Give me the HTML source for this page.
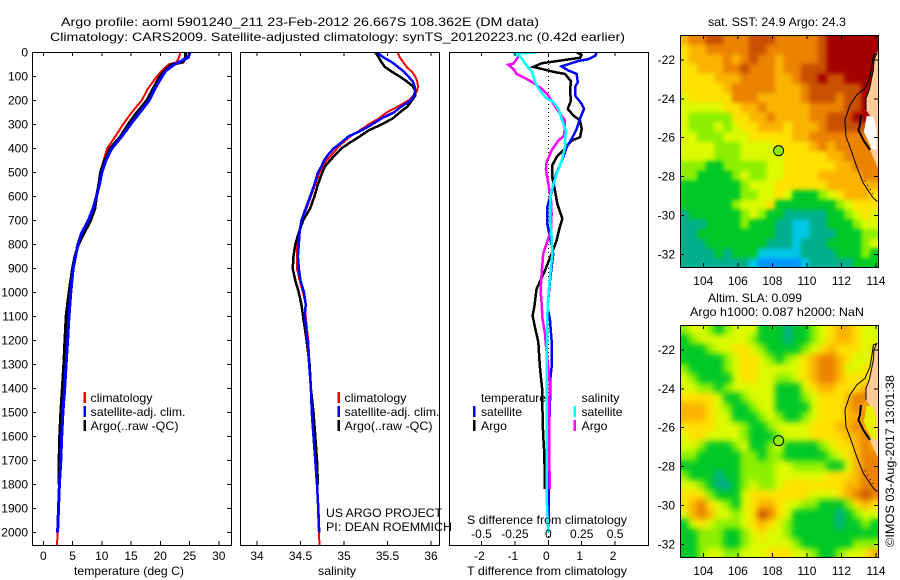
<!DOCTYPE html>
<html lang="en">
<head>
<meta charset="utf-8">
<title>Argo profile 5901240_211</title>
<style>
html,body{margin:0;padding:0;background:#fff;width:900px;height:580px;overflow:hidden}
svg{display:block}
text{font-family:"Liberation Sans",sans-serif;font-size:12px;fill:#000}
</style>
</head>
<body>
<svg id="chart" width="900" height="580" viewBox="0 0 900 580" xmlns="http://www.w3.org/2000/svg">
<defs>
<clipPath id="clip-map-top"><rect x="680" y="35" width="198" height="232"/></clipPath>
<clipPath id="clip-map-bottom"><rect x="680" y="325" width="198" height="232"/></clipPath>
<clipPath id="clip-temp"><rect x="32" y="52" width="199" height="493"/></clipPath>
<clipPath id="clip-sal"><rect x="240" y="52" width="199" height="493"/></clipPath>
<clipPath id="clip-diff"><rect x="449" y="52" width="199" height="493"/></clipPath>
<filter id="soft-sst-map" filterUnits="userSpaceOnUse" x="640" y="0" width="260" height="580" color-interpolation-filters="sRGB"><feGaussianBlur stdDeviation="2.2"/></filter>
<filter id="soft-sla-map" filterUnits="userSpaceOnUse" x="640" y="0" width="260" height="580" color-interpolation-filters="sRGB"><feGaussianBlur stdDeviation="3.2"/></filter>
</defs>
</svg>
<script>
// ---------- axis tick data ----------
var depthTicks = [0,100,200,300,400,500,600,700,800,900,1000,1100,1200,1300,1400,1500,1600,1700,1800,1900,2000];
var tempTicks = [0,5,10,15,20,25,30];
var salTicks = [34,34.5,35,35.5,36];
var tDiffTicks = [-2,-1,0,1,2];
var sDiffTicks = [-0.5,-0.25,0,0.25,0.5];
var sDiffTickLabels = ['-0.5','-0.25','0','0.25','0.5'];
var lonTicks = [104,106,108,110,112,114];
var latTicks = [22,24,26,28,30,32];

// ---------- temperature panel ----------
var tempDepths = [0,20,40,50,75,100,150,200,250,300,350,400,450,500,550,600,650,700,750,800,850,900,1000,1100,1200,1300,1400,1500,1600,1700,1800,1900,2000,2055];
var tempClim = [23.4,23.2,22.8,21.4,20.3,19.4,17.9,16.8,15.1,13.6,12.3,10.9,10.3,9.7,9.4,9.1,8.7,7.9,6.6,5.9,5.4,5.1,4.7,4.3,4,3.8,3.55,3.25,3.1,2.9,2.75,2.5,2.45,2.35];
var tempArgo = [24.3,24.3,23.9,21.9,20.8,19.9,18.8,17.7,16,14.5,13.2,11.4,10.5,9.8,9.5,9.1,8.8,8.1,7,6,5.4,5,4.4,3.9,3.7,3.5,3.25,3,2.8,2.7,2.65];
var tempSat = [25,24.8,23.2,22.4,21,20.3,19.1,18.1,16.5,14.9,13.4,11.7,10.7,10,9.6,9.1,8.5,7.7,6.6,5.9,5.5,5.1,4.7,4.4,4.15,3.9,3.65,3.35,3.15,3,2.75,2.6,2.45];

// ---------- salinity panel ----------
var salDepths = [0,20,40,60,80,100,120,140,160,180,200,225,250,275,300,325,350,375,400,425,450,475,500,550,600,650,700,750,800,850,900,950,1000,1050,1100,1200,1300,1400,1500,1600,1700,1800,1900,2000,2055];
var salClim = [35.62,35.64,35.68,35.72,35.78,35.82,35.84,35.85,35.84,35.80,35.74,35.62,35.49,35.40,35.28,35.18,35.07,34.99,34.92,34.86,34.80,34.76,34.72,34.67,34.62,34.57,34.51,34.48,34.46,34.46,34.46,34.49,34.53,34.56,34.56,34.59,34.605,34.62,34.64,34.655,34.67,34.69,34.70,34.71,34.72];
var salArgo = [35.36,35.40,35.43,35.47,35.55,35.64,35.72,35.79,35.82,35.82,35.78,35.73,35.64,35.56,35.43,35.28,35.18,35.07,34.97,34.9,34.84,34.78,34.75,34.70,34.66,34.61,34.53,34.48,34.44,34.42,34.41,34.44,34.48,34.51,34.53,34.57,34.605,34.62,34.65,34.67,34.69,34.70];
var salSat = [35.38,35.45,35.55,35.62,35.69,35.74,35.79,35.81,35.82,35.80,35.77,35.66,35.57,35.43,35.32,35.20,35.05,34.97,34.88,34.82,34.77,34.74,34.70,34.66,34.61,34.56,34.51,34.49,34.48,34.47,34.48,34.5,34.54,34.56,34.55,34.58,34.60,34.62,34.63,34.65,34.67,34.69,34.705,34.715];

// ---------- difference panel ----------
var tDiffArgoDepths = [0,10,22,45,60,82,89,120,158,200,235,262,283,318,353,367,388,408,436,470,520,575,630,693,735,783,839,908,985,1061,1096,1144,1206,1311,1408,1533,1603,1672,1818];
var tDiffArgo = [0.85,1.0,0.95,-0.2,-0.45,0.2,0.5,0.68,0.65,0.68,0.58,0.75,0.95,1.0,0.95,0.7,0.55,0.45,0.25,0.12,0.12,0.2,0.27,0.42,0.33,0.25,0.1,-0.1,-0.35,-0.42,-0.47,-0.4,-0.3,-0.25,-0.18,-0.17,-0.15,-0.12,-0.1];
var tDiffSatDepths = [0,14,28,35,58,75,89,124,144,179,214,235,276,318,360,394,436,485,520,561,603,644,714,769,839,894,950,1061,1117,1200,1311,1373,1450,1589,1811,2000];
var tDiffSat = [1.45,1.4,1.2,0.9,0.4,0.6,0.85,0.88,0.8,0.8,1.0,1.07,0.95,0.85,0.7,0.55,0.45,0.3,0.2,0.15,0.05,-0.03,-0.03,0.05,0.15,0.1,0.05,-0.02,0.05,0.1,0.1,0.05,0.05,0.02,0.02,0];
var sDiffArgoDepths = [6,22,47,51,68,89,110,131,151,179,214,256,283,346,367,408,457,485,547,617,672,742,783,839,922,992,1061,1103,1172,1206,1380,1492,1644,1818];
var sDiffArgo = [-0.213,-0.23,-0.263,-0.3,-0.263,-0.238,-0.163,-0.1,-0.05,0,0.038,0.088,0.125,0.12,0.075,0.025,-0.013,-0.018,0,0.02,0.025,0.02,-0.005,-0.038,-0.05,-0.058,-0.048,-0.045,-0.025,-0.02,0.012,0.005,0.005,0.012];
var sDiffSatDepths = [0,6,14,54,82,124,158,186,207,235,276,325,394,450,506,547,603,686,769,839,978,1061,1172,1311,1589,1853,2000];
var sDiffSat = [-0.088,-0.263,-0.213,-0.163,-0.12,-0.1,-0.063,-0.025,0.038,0.075,0.1,0.13,0.125,0.1,0.063,0.038,0.013,0.013,0.025,0.03,0.005,-0.005,-0.008,-0.013,-0.013,-0.013,0];

// ---------- map grids: 0.5 degree cells, colour level 0 (blue) to 10 (dark red) ----------
var sstLevels = [
[7,8,8,9,9,8,8,8,9,9,9,8,8,8,8,8,9,10,10,10,10,10,10],
[6,7,7,8,8,8,8,8,9,9,8,8,8,8,8,8,9,10,10,10,10,10,10],
[6,7,7,7,7,8,7,8,9,8,8,7,8,8,8,8,9,10,10,10,10,10,10],
[6,6,7,7,7,8,8,9,8,8,8,7,8,8,9,9,9,10,10,10,10,10,10],
[6,6,6,6,7,7,7,8,8,8,8,7,7,8,9,9,10,9,9,10,10,10,10],
[6,6,6,6,6,7,8,8,8,8,8,7,7,7,8,9,9,9,9,9,9,10,10],
[5,6,6,6,6,6,8,8,8,7,7,7,7,7,8,9,9,9,8,9,9,10,10],
[5,5,5,5,5,6,6,7,7,8,7,7,7,7,7,8,8,8,8,9,9,10,10],
[5,4,4,4,4,4,6,6,7,7,8,7,7,7,7,8,8,9,9,9,10,10,10],
[5,4,4,4,5,4,5,6,6,7,7,7,6,7,7,7,8,9,9,9,9,9,9],
[5,5,4,4,4,5,5,5,6,6,6,6,6,7,7,8,8,8,8,8,8,8,8],
[5,5,5,5,4,4,4,5,5,5,5,6,6,6,6,7,8,7,8,8,8,8,8],
[5,5,5,5,4,4,4,5,5,5,5,5,6,6,6,6,6,7,7,8,8,8,8],
[4,4,4,3,3,4,4,4,4,4,5,5,6,6,6,6,6,6,7,7,8,8,8],
[4,4,3,3,3,3,4,5,4,4,5,5,6,6,6,6,7,7,7,7,7,8,8],
[3,3,3,3,3,3,3,4,5,5,5,6,6,6,6,6,6,7,7,7,7,7,7],
[3,3,3,3,3,3,3,4,4,5,5,6,5,3,3,3,4,5,6,7,7,7,6],
[3,3,3,3,3,3,4,5,5,5,6,3,3,3,3,3,3,3,4,5,6,6,6],
[2,3,3,3,3,3,3,4,5,4,3,3,2,2,2,2,2,3,3,4,5,6,5],
[2,2,2,3,3,3,3,4,3,3,3,2,2,1,1,2,2,3,3,3,4,5,5],
[2,2,3,3,3,3,3,3,3,3,3,2,2,1,1,2,2,2,3,3,3,4,4],
[2,2,2,3,3,3,3,3,3,3,2,2,2,1,2,2,2,3,3,3,3,4,5],
[2,2,2,2,3,2,3,3,3,1,1,1,1,1,2,2,2,2,3,3,3,4,3],
[2,2,2,2,2,2,2,2,1,0,0,0,0,0,1,2,2,2,2,2,3,3,3]
];
var slaLevels = [
[4,5,5,4,3,4,5,5,5,3,3,3,2,3,3,4,5,6,7,7,6,5,5],
[3,4,5,5,5,5,5,5,4,3,3,3,2,3,3,4,5,6,7,7,6,5,5],
[3,3,3,4,5,5,6,6,5,4,3,3,3,3,4,5,6,7,6,6,6,5,6],
[3,3,3,3,3,4,5,6,6,5,4,3,4,5,6,7,8,8,7,6,5,5,6],
[4,3,3,3,3,4,5,6,6,5,5,5,5,5,6,7,8,8,7,5,5,6,6],
[5,4,3,3,3,3,5,6,6,5,5,4,4,5,6,7,8,8,7,6,6,6,6],
[5,5,4,4,3,4,5,5,5,5,5,3,3,3,5,6,7,7,6,6,6,7,7],
[6,6,6,6,5,3,3,4,5,5,5,3,3,3,4,5,6,6,6,7,8,8,8],
[7,7,7,6,5,4,3,3,4,5,5,3,3,3,3,5,6,6,6,7,8,7,8],
[7,7,7,6,5,5,3,3,3,4,5,4,3,3,4,5,6,6,6,7,7,8,7],
[6,6,6,6,5,5,5,4,3,3,4,5,5,5,5,6,6,6,7,7,8,7,6],
[5,6,6,5,5,5,5,4,3,3,3,4,5,5,5,6,6,6,6,7,7,8,7],
[5,5,4,3,3,3,4,5,3,3,4,5,3,3,3,3,4,5,6,6,7,8,7],
[4,4,3,3,3,3,3,4,4,3,4,4,3,3,3,3,3,4,5,6,7,8,8],
[3,3,3,3,3,3,3,4,4,4,4,5,5,4,4,4,4,3,3,5,7,8,8],
[4,3,3,3,2,3,3,4,4,4,4,5,5,5,5,5,5,6,6,6,7,8,8],
[5,5,4,3,2,2,3,4,5,4,4,5,6,6,6,6,6,6,6,7,7,8,8],
[6,6,6,4,3,3,3,5,6,6,6,6,6,6,6,5,5,5,6,7,8,9,8],
[6,7,8,6,5,4,3,5,6,7,7,6,5,5,4,4,3,3,3,4,6,7,6],
[5,7,8,7,5,5,4,5,6,9,8,6,5,3,3,3,3,3,2,3,4,5,5],
[3,5,6,5,4,4,4,5,6,7,6,5,4,3,3,3,3,3,2,3,3,4,3],
[3,3,4,4,4,3,3,4,5,6,5,5,4,3,3,3,3,3,3,3,3,3,3],
[3,3,4,4,4,3,3,4,5,5,5,5,5,4,3,3,3,3,3,3,4,4,4],
[3,3,4,5,5,4,4,5,5,5,6,6,6,5,5,4,3,3,4,5,5,6,7]
];
var argoDotLevel = [4,4];
var argoLon = 108.362;
var argoLat = 26.667;

// ---------- coast outline, degrees east / degrees south ----------
var landLon = [114.3,114.04,113.94,113.85,113.6,113.42,113.42,113.69,113.85,113.65,114.08,114.3];
var landLat = [21.5,21.6,21.91,22.5,23.54,23.97,24.57,24.92,25.77,26.63,27.49,27.6];
var bayLon = [113.46,113.85,114.04,114.04,113.75,113.3];
var bayLat = [24.88,24.92,25.6,26.63,26.55,25.69];
var shelfLon = [114.08,113.85,113.75,113.65,113.36,112.88,112.49,112.2,112.26,112.59,112.88,113.27,113.85,114.08];
var shelfLat = [21.66,21.74,22.34,22.86,23.46,23.8,24.32,25.09,25.95,26.72,27.49,28.35,29.12,29.29];
var coastLon = [114.04,113.88,113.85,113.61,113.42,113.42];
var coastLat = [21.66,22,22.51,23.54,23.97,24.57];
var islandLon = [113.13,113.07,112.98,113.27,113.65];
var islandLat = [24.83,25.34,25.6,26.12,26.63];
var shoalLon = [113.35,113.9];
var shoalLat = [28.2,29.0];
var levelColours = ['#0096ff','#00c8e6','#00af8c','#00c828','#8cf000','#dcfa00','#ffe100','#fab400','#eb8200','#c85000','#a50000'];

// ---------- scales ----------
function yDepth(d){return 52.5+0.24*d;}
function xTemp(v){return 43.3+5.85*v;}
function xSal(v){return 257+87*(v-34);}
function xTDiff(v){return 548.3+33.4*v;}
function xSDiff(v){return 548.3+133.6*v;}
function xLon(v){return 703.3+17.27*(v-104);}
function yLat(v,top){return top+25+19.43*(v-22);}

var svg = document.getElementById('chart');
var NS = 'http://www.w3.org/2000/svg';

function addLine(x1,y1,x2,y2,name){
  var el = document.createElementNS(NS,'line');
  
  
  el.setAttribute('x1',x1);el.setAttribute('y1',y1);el.setAttribute('x2',x2);el.setAttribute('y2',y2);
  el.setAttribute('stroke','#000');el.setAttribute('stroke-width','1');
  el.setAttribute('shape-rendering','crispEdges');
  svg.appendChild(el);
  return el;
}
function addText(x,y,str,anchor,name,width){
  var el = document.createElementNS(NS,'text');
  
  
  el.setAttribute('x',x);el.setAttribute('y',y);
  el.setAttribute('text-anchor',anchor||'start');
  if(width){el.setAttribute('textLength',width);el.setAttribute('lengthAdjust','spacingAndGlyphs');}
  el.textContent = str;
  svg.appendChild(el);
  return el;
}
function addFrame(x,y,w,h,name){
  var el = document.createElementNS(NS,'rect');
  
  
  el.setAttribute('x',x+0.5);el.setAttribute('y',y+0.5);el.setAttribute('width',w);el.setAttribute('height',h);
  el.setAttribute('fill','none');el.setAttribute('stroke','#000');el.setAttribute('stroke-width','1');
  el.setAttribute('shape-rendering','crispEdges');
  svg.appendChild(el);
}
function addSeries(depths,values,xFn,colour,width,clip,name){
  var pts = values.map(function(v,i){return xFn(v).toFixed(1)+','+yDepth(depths[i]).toFixed(1);}).join(' ');
  var el = document.createElementNS(NS,'polyline');
  
  
  el.setAttribute('points',pts);
  el.setAttribute('fill','none');el.setAttribute('stroke',colour);el.setAttribute('stroke-width',width);
  el.setAttribute('shape-rendering','crispEdges');
  el.setAttribute('clip-path','url(#'+clip+')');
  svg.appendChild(el);
}
function addKey(x,y,colour,name){
  var el = document.createElementNS(NS,'rect');
  
  
  el.setAttribute('x',x);el.setAttribute('y',y);el.setAttribute('width','2.5');el.setAttribute('height','11');
  el.setAttribute('fill',colour);
  svg.appendChild(el);
}
function addPoly(lons,lats,top,fill,stroke,width,clip,name){
  var pts = lons.map(function(v,i){return xLon(v).toFixed(1)+','+yLat(lats[i],top).toFixed(1);}).join(' ');
  var el = document.createElementNS(NS,fill==='none'?'polyline':'polygon');
  
  
  el.setAttribute('points',pts);
  el.setAttribute('fill',fill);
  el.setAttribute('stroke',stroke);
  el.setAttribute('stroke-width',width);
  el.setAttribute('clip-path','url(#'+clip+')');
  svg.appendChild(el);
  return el;
}

// ---------- titles ----------
addText(300,26,'Argo profile: aoml 5901240_211 23-Feb-2012 26.667S 108.362E (DM data)','middle','title-profile',478);
addText(337.5,41,'Climatology: CARS2009. Satellite-adjusted climatology: synTS_20120223.nc (0.42d earlier)','middle','title-climatology',575);

// ---------- profile panels ----------
addSeries(tempDepths,tempClim,xTemp,'#f00',2,'clip-temp','temp-climatology-line');
addSeries(tempDepths,tempArgo,xTemp,'#000',3,'clip-temp','temp-argo-line');
addSeries(tempDepths,tempSat,xTemp,'#00f',3,'clip-temp','temp-satellite-line');
addFrame(32,52,199,493,'temperature-panel-frame');
depthTicks.forEach(function(d){
  addLine(32,yDepth(d),36,yDepth(d),'depth-tick-left');
  addLine(227,yDepth(d),231,yDepth(d),'depth-tick-right');
  addText(28,yDepth(d)+4,String(d),'end','depth-tick-label');
});
tempTicks.forEach(function(v){
  addLine(xTemp(v),52,xTemp(v),56,'temp-tick-top');
  addLine(xTemp(v),541,xTemp(v),545,'temp-tick-bottom');
  addText(xTemp(v),560,String(v),'middle','temp-tick-label');
});
addText(129,575,'temperature (deg C)','middle','temperature-axis-title',110);

addSeries(salDepths,salClim,xSal,'#f00',2,'clip-sal','sal-climatology-line');
addSeries(salDepths,salArgo,xSal,'#000',2.5,'clip-sal','sal-argo-line');
addSeries(salDepths,salSat,xSal,'#00f',2.5,'clip-sal','sal-satellite-line');
addFrame(240,52,199,493,'salinity-panel-frame');
salTicks.forEach(function(v){
  addLine(xSal(v),52,xSal(v),56,'sal-tick-top');
  addLine(xSal(v),541,xSal(v),545,'sal-tick-bottom');
  addText(xSal(v),560,String(v),'middle','sal-tick-label');
});
addText(337,575,'salinity','middle','salinity-axis-title',38);
addText(326,517,'US ARGO PROJECT','start','project-credit',116);
addText(326,531,'PI: DEAN ROEMMICH','start','pi-credit',126);

var zero = addLine(548.5,52,548.5,545,'zero-difference-line');
zero.setAttribute('stroke-dasharray','1 3');
addSeries(tDiffArgoDepths,tDiffArgo,xTDiff,'#000',2.5,'clip-diff','tdiff-argo-line');
addSeries(tDiffSatDepths,tDiffSat,xTDiff,'#00f',2.5,'clip-diff','tdiff-satellite-line');
addSeries(sDiffArgoDepths,sDiffArgo,xSDiff,'#f0f',2.5,'clip-diff','sdiff-argo-line');
addSeries(sDiffSatDepths,sDiffSat,xSDiff,'#0ff',2.5,'clip-diff','sdiff-satellite-line');
addFrame(449,52,199,493,'difference-panel-frame');
tDiffTicks.forEach(function(v){
  addLine(xTDiff(v),52,xTDiff(v),56,'tdiff-tick-top');
  addLine(xTDiff(v),541,xTDiff(v),545,'tdiff-tick-bottom');
  addText(xTDiff(v)-2,560,String(v),'middle','tdiff-tick-label');
});
sDiffTicks.forEach(function(v,i){
  addText(xSDiff(v),538,sDiffTickLabels[i],'middle','sdiff-tick-label');
});
addText(547,524,'S difference from climatology','middle','sdiff-axis-title',160);
addText(547,575,'T difference from climatology','middle','tdiff-axis-title',160);

// ---------- legends ----------
addKey(83.5,392,'#f00','legend-key-climatology');
addKey(83.5,406,'#00f','legend-key-satellite');
addKey(83.5,420,'#000','legend-key-argo');
addText(90.5,402,'climatology','start','legend-climatology',62);
addText(90.5,416,'satellite-adj. clim.','start','legend-satellite',95);
addText(90.5,430,'Argo(..raw -QC)','start','legend-argo',88);
addKey(337.5,392,'#f00','legend-key-climatology');
addKey(337.5,406,'#00f','legend-key-satellite');
addKey(337.5,420,'#000','legend-key-argo');
addText(344.5,402,'climatology','start','legend-climatology',62);
addText(344.5,416,'satellite-adj. clim.','start','legend-satellite',95);
addText(344.5,430,'Argo(..raw -QC)','start','legend-argo',88);
addText(481,402,'temperature','start','legend-temperature-heading',65);
addKey(473,406,'#00f','legend-key-t-satellite');
addKey(473,420,'#000','legend-key-t-argo');
addText(481,416,'satellite','start','legend-t-satellite',41);
addText(481,430,'Argo','start','legend-t-argo',26);
addText(581.5,402,'salinity','start','legend-salinity-heading',38);
addKey(573.5,406,'#0ff','legend-key-s-satellite');
addKey(573.5,420,'#f0f','legend-key-s-argo');
addText(581.5,416,'satellite','start','legend-s-satellite',41);
addText(581.5,430,'Argo','start','legend-s-argo',26);

// ---------- maps ----------
function drawMap(levels,top,clip,mapName,dotLevel,bayFill,softFilter){
  var wrap = document.createElementNS(NS,'g');
  
  
  wrap.setAttribute('clip-path','url(#'+clip+')');
  svg.appendChild(wrap);
  var cells = document.createElementNS(NS,'g');
  cells.setAttribute('id',mapName+'-cells');
  
  
  wrap.appendChild(cells);
  levels.forEach(function(row,j){
    row.forEach(function(level,i){
      var cell = document.createElementNS(NS,'rect');
      
      
      var x = xLon(102.65+0.5*i), y = yLat(20.7+0.5*j,top);
      cell.setAttribute('x',x.toFixed(1));
      cell.setAttribute('y',y.toFixed(1));
      cell.setAttribute('width',(17.27*0.5+0.5).toFixed(2));
      cell.setAttribute('height',(19.43*0.5+0.5).toFixed(2));
      cell.setAttribute('fill',levelColours[level]);
      cells.appendChild(cell);
    });
  });
  var soft = document.createElementNS(NS,'use');
  
  
  soft.setAttribute('href','#'+mapName+'-cells');
  soft.setAttribute('filter','url(#'+softFilter+')');
  wrap.appendChild(soft);
  addPoly(landLon,landLat,top,'#ffcc99','none',0,clip,mapName+'-land');
  addPoly(bayLon,bayLat,top,bayFill,'none',0,clip,mapName+'-bay');
  addPoly(shelfLon,shelfLat,top,'none','#000',1,clip,mapName+'-shelf-contour');
  addPoly(coastLon,coastLat,top,'none','#000',1,clip,mapName+'-coast-contour');
  addPoly(islandLon,islandLat,top,'none','#000',2,clip,mapName+'-island-contour');
  var shoal = addPoly(shoalLon,shoalLat,top,'none','#000',1,clip,mapName+'-shoal-contour');
  shoal.setAttribute('stroke-dasharray','1 4');
  var dot = document.createElementNS(NS,'circle');
  
  
  dot.setAttribute('cx',xLon(argoLon));
  dot.setAttribute('cy',yLat(argoLat,top));
  dot.setAttribute('r','5');
  dot.setAttribute('fill',levelColours[dotLevel]);
  dot.setAttribute('stroke','#000');
  dot.setAttribute('stroke-width','1');
  svg.appendChild(dot);
  addFrame(680,top,198,232,mapName+'-frame');
  lonTicks.forEach(function(v){
    addLine(xLon(v),top,xLon(v),top+4,mapName+'-lon-tick-top');
    addLine(xLon(v),top+228,xLon(v),top+232,mapName+'-lon-tick-bottom');
    addText(xLon(v),top+250,String(v),'middle',mapName+'-lon-label');
  });
  latTicks.forEach(function(v){
    addLine(680,yLat(v,top),684,yLat(v,top),mapName+'-lat-tick-left');
    addLine(874,yLat(v,top),878,yLat(v,top),mapName+'-lat-tick-right');
    addText(675,yLat(v,top)+4,'-'+v,'end',mapName+'-lat-label');
  });
}
drawMap(sstLevels,35,'clip-map-top','sst-map',argoDotLevel[0],'#ffffff','soft-sst-map');
drawMap(slaLevels,325,'clip-map-bottom','sla-map',argoDotLevel[1],'#e6f000','soft-sla-map');

addText(777,26,'sat. SST: 24.9 Argo: 24.3','middle','sst-map-title',138);
addText(755,302,'Altim. SLA: 0.099','middle','sla-map-title',94);
addText(777,316,'Argo h1000: 0.087 h2000: NaN','middle','argo-height-title',174);
var stamp = addText(894,547,'\u00A9IMOS 03-Aug-2017 13:01:38','start','imos-timestamp',172);
stamp.setAttribute('transform','rotate(-90 894 547)');
</script>
</body>
</html>
